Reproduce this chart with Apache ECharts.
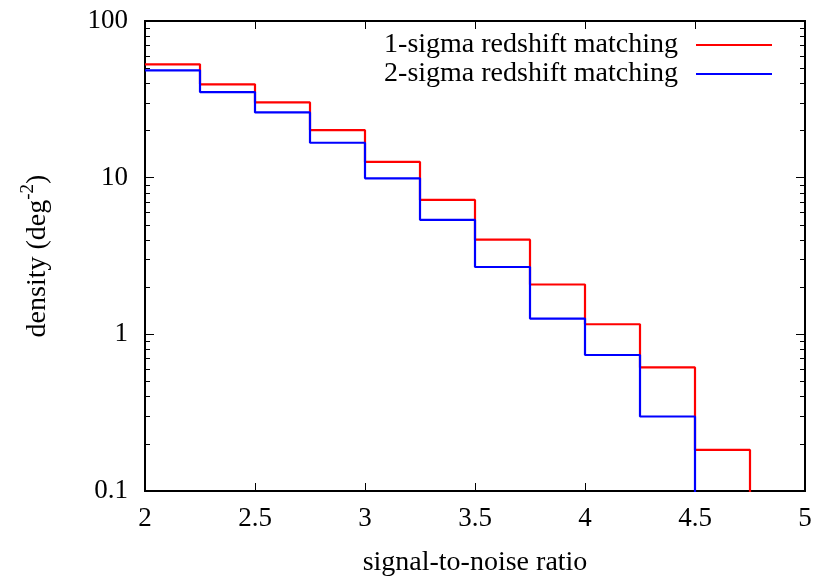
<!DOCTYPE html>
<html>
<head>
<meta charset="utf-8">
<script src="https://cdn.jsdelivr.net/npm/echarts@6/dist/echarts.min.js"></script>
<style>
  html, body { margin: 0; padding: 0; background: #fff; }
  #chart { width: 830px; height: 582px; }
</style>
</head>
<body>
<div id="chart"></div>
<script>
// bin edges of the signal-to-noise histogram
const binEdges = [2, 2.25, 2.5, 2.75, 3, 3.25, 3.5, 3.75, 4, 4.25, 4.5, 4.75, 5];
// density per bin (deg^-2); 0.01 = empty, below the plot floor
const oneSigma = [52.9, 39.4, 30.2, 20.1, 12.6, 7.21, 4.02, 2.08, 1.16, 0.615, 0.183, 0.01];
const twoSigma = [48.4, 35.2, 26.1, 16.7, 9.91, 5.38, 2.69, 1.26, 0.738, 0.299, 0.01, 0.01];
const seriesNames = ['1-sigma redshift matching', '2-sigma redshift matching'];
const xTicks = [2, 2.5, 3, 3.5, 4, 4.5, 5];
const yMajor = [0.1, 1, 10, 100];
const yMinor = [0.2, 0.3, 0.4, 0.5, 0.6, 0.7, 0.8, 0.9, 2, 3, 4, 5, 6, 7, 8, 9, 20, 30, 40, 50, 60, 70, 80, 90];

const font = 'Liberation Serif';

// step data: each bin starts at its left edge, last point closes the final bin
function stepData(vals) {
  return binEdges.map((x, i) => [x, vals[Math.min(i, vals.length - 1)]]);
}

const chart = echarts.init(document.getElementById('chart'));

function xAxisOpt(pos, show) {
  return {
    type: 'value', position: pos, min: 2, max: 5, interval: 0.5,
    axisLine: {show: true, onZero: false, lineStyle: {color: '#000', width: 2}},
    axisTick: {show: true, inside: true, length: 8, lineStyle: {color: '#000', width: 1}},
    axisLabel: {show: show, margin: 14, color: '#000', fontFamily: font, fontSize: 27,
      customValues: xTicks},
    splitLine: {show: false}
  };
}

function yAxisOpt(pos, ticks, len, show) {
  return {
    type: 'log', logBase: 10, position: pos, min: 0.1, max: 100,
    axisLine: {show: true, onZero: false, lineStyle: {color: '#000', width: 2}},
    axisTick: {show: true, inside: true, length: len, customValues: ticks,
      lineStyle: {color: '#000', width: 1}},
    axisLabel: {show: show, margin: 17, color: '#000', fontFamily: font, fontSize: 27,
      customValues: yMajor,
      formatter: v => String(v)},
    splitLine: {show: false},
    minorTick: {show: false}
  };
}

const yLeft = yAxisOpt('left', yMajor, 9, true);
yLeft.name = '{a|density (deg}{s|-2}{a|)}';
yLeft.nameLocation = 'middle';
yLeft.nameGap = 89;
yLeft.nameTextStyle = {
  color: '#000', fontFamily: font, fontSize: 28,
  rich: {
    a: {fontFamily: font, fontSize: 28, color: '#000'},
    s: {fontFamily: font, fontSize: 19, color: '#000', padding: [0, 0, 18, 0]}
  }
};

const xBottom = xAxisOpt('bottom', true);
xBottom.name = 'signal-to-noise ratio';
xBottom.nameLocation = 'middle';
xBottom.nameGap = 58;
xBottom.nameTextStyle = {color: '#000', fontFamily: font, fontSize: 28};

let option = {
  animation: false,
  backgroundColor: '#fff',
  grid: {left: 145, right: 25, top: 21, bottom: 89},
  legend: {
    orient: 'vertical', right: 53, top: 26, align: 'right',
    icon: 'rect', itemWidth: 76, itemHeight: 2, itemGap: 1,
    textStyle: {fontFamily: font, fontSize: 28, color: '#000', lineHeight: 22, padding: [0, 13, 0, 0]},
    data: seriesNames
  },
  xAxis: [xBottom, xAxisOpt('top', false)],
  yAxis: [
    yLeft,
    yAxisOpt('left', yMinor, 5, false),
    yAxisOpt('right', yMajor, 9, false),
    yAxisOpt('right', yMinor, 5, false)
  ],
  series: [
    {
      name: seriesNames[0], type: 'line', step: 'end', symbol: 'none', clip: true,
      xAxisIndex: 0, yAxisIndex: 0,
      itemStyle: {color: '#ff0000'},
      lineStyle: {color: '#ff0000', width: 2.2},
      data: stepData(oneSigma)
    },
    {
      name: seriesNames[1], type: 'line', step: 'end', symbol: 'none', clip: true,
      xAxisIndex: 0, yAxisIndex: 0,
      itemStyle: {color: '#0000ff'},
      lineStyle: {color: '#0000ff', width: 2.2},
      data: stepData(twoSigma)
    }
  ]
};
chart.setOption(option);
</script>
</body>
</html>
